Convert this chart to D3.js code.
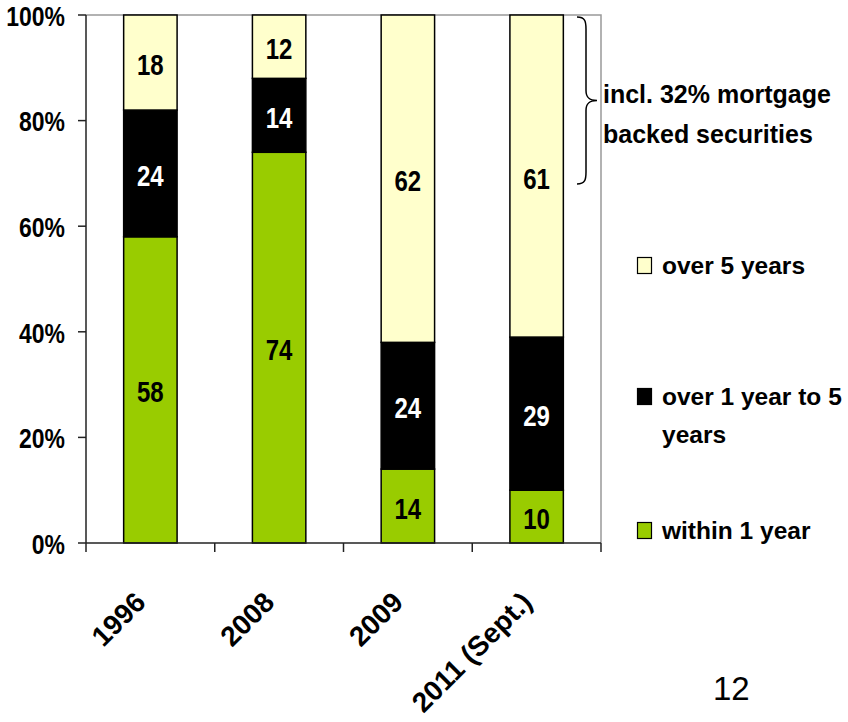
<!DOCTYPE html>
<html>
<head>
<meta charset="utf-8">
<script src="https://cdnjs.cloudflare.com/ajax/libs/d3/7.8.5/d3.min.js"></script>
<style>
  html, body { margin: 0; padding: 0; background: #fff; }
  svg { display: block; font-family: "Liberation Sans", Arial, sans-serif; }
</style>
</head>
<body>
<svg id="chart" width="848" height="722"></svg>
<script>
// ---- data ----
const categories = ["1996", "2008", "2009", "2011 (Sept.)"];
const seriesNames = ["within 1 year", "over 1 year to 5 years", "over 5 years"];
const within1 = [58, 74, 14, 10];
const over1to5 = [24, 14, 24, 29];
const over5 = [18, 12, 62, 61];
const yTicks = [0, 20, 40, 60, 80, 100];
const yTickLabels = ["0%", "20%", "40%", "60%", "80%", "100%"];
const colors = ["#99CC00", "#000000", "#FFFFCC"];
const labelColors = ["#000", "#fff", "#000"];
const legendLines = [["over 5 years"], ["over 1 year to 5", "years"], ["within 1 year"]];
const legendSeries = [2, 1, 0];
const noteLines = ["incl. 32% mortgage", "backed securities"];
const bracketRange = [99.6, 68];
const pageNumber = "12";

(function () {
const svg = d3.select("#chart");
const pLeft = 86, pRight = 601, pTop = 15, pBottom = 543;

const x = d3.scaleBand().domain(categories).range([pLeft, pRight]).padding(0);
const y = d3.scaleLinear().domain([0, 100]).range([pBottom, pTop]);
const barW = x.step() * 0.415;

const rows = categories.map((c, i) => ({ cat: c, s0: within1[i], s1: over1to5[i], s2: over5[i] }));
const stack = d3.stack().keys(["s0", "s1", "s2"]);
const layers = stack(rows);

// plot frame (top and right, gray)
svg.append("path")
  .attr("d", `M${pLeft},${pTop}H${pRight}V${pBottom}`)
  .attr("fill", "none").attr("stroke", "#999").attr("stroke-width", 1.5);

// bars
layers.forEach((layer, li) => {
  svg.append("g").selectAll("rect").data(layer).join("rect")
    .attr("x", d => x(d.data.cat) + (x.step() - barW) / 2)
    .attr("y", d => y(d[1]))
    .attr("width", barW)
    .attr("height", d => y(d[0]) - y(d[1]))
    .attr("fill", colors[li])
    .attr("stroke", "#000").attr("stroke-width", 1.5);
});

// value labels
layers.forEach((layer, li) => {
  svg.append("g").selectAll("text").data(layer).join("text")
    .attr("transform", d => `translate(${x(d.data.cat) + x.step() / 2},${(y(d[0]) + y(d[1])) / 2 + 2}) scale(0.8,1)`)
    .attr("text-anchor", "middle")
    .attr("dominant-baseline", "central")
    .attr("font-size", 30).attr("font-weight", "bold")
    .attr("fill", labelColors[li])
    .text(d => d.data["s" + li]);
});

// y axis
const yAxis = svg.append("g");
yAxis.append("line").attr("x1", pLeft).attr("x2", pLeft).attr("y1", pTop).attr("y2", pBottom)
  .attr("stroke", "#222").attr("stroke-width", 1.5);
yAxis.selectAll("line.tick").data(yTicks).join("line").attr("class", "tick")
  .attr("x1", pLeft - 8).attr("x2", pLeft).attr("y1", d => y(d)).attr("y2", d => y(d))
  .attr("stroke", "#222").attr("stroke-width", 1.5);
yAxis.selectAll("text").data(yTicks).join("text")
  .attr("transform", d => `translate(${pLeft - 21},${y(d) + 1}) scale(0.82,1)`)
  .attr("text-anchor", "end").attr("dominant-baseline", "central")
  .attr("font-size", 28).attr("font-weight", "bold").attr("fill", "#000")
  .text((d, i) => yTickLabels[i]);

// x axis
const xAxis = svg.append("g");
xAxis.append("line").attr("x1", pLeft).attr("x2", pRight).attr("y1", pBottom).attr("y2", pBottom)
  .attr("stroke", "#222").attr("stroke-width", 1.5);
const boundaries = categories.map(c => x(c)).concat([x(categories[categories.length - 1]) + x.step()]);
xAxis.selectAll("line.tick").data(boundaries).join("line").attr("class", "tick")
  .attr("x1", d => d).attr("x2", d => d).attr("y1", pBottom).attr("y2", pBottom + 9)
  .attr("stroke", "#222").attr("stroke-width", 1.5);
xAxis.selectAll("text").data(categories).join("text")
  .attr("transform", d => `translate(${x(d) + x.step() / 2 - 3},${pBottom + 61}) rotate(-45)`)
  .attr("text-anchor", "end")
  .attr("font-size", 28).attr("font-weight", "bold").attr("fill", "#000")
  .text(d => d);

// bracket
const by0 = y(bracketRange[0]), by1 = y(bracketRange[1]), bm = (by0 + by1) / 2;
const bx = pRight - 24;
svg.append("path")
  .attr("d", `M${bx},${by0} C${bx + 8},${by0} ${bx + 9},${by0 + 4} ${bx + 9},${by0 + 12}
              L${bx + 9},${bm - 10} C${bx + 9},${bm - 3} ${bx + 12},${bm} ${bx + 20},${bm}
              C${bx + 12},${bm} ${bx + 9},${bm + 3} ${bx + 9},${bm + 10}
              L${bx + 9},${by1 - 12} C${bx + 9},${by1 - 4} ${bx + 8},${by1} ${bx},${by1}`)
  .attr("fill", "none").attr("stroke", "#000").attr("stroke-width", 1.5);

svg.append("g").selectAll("text").data(noteLines).join("text")
  .attr("x", pRight + 2).attr("y", (d, i) => 103 + i * 40)
  .attr("font-size", 25).attr("font-weight", "bold").attr("fill", "#000")
  .text(d => d);

// legend
const legendTops = [257, 388, 522];
legendSeries.forEach((si, k) => {
  const g = svg.append("g");
  g.append("rect").attr("x", 637.5).attr("y", legendTops[k] + 0.5).attr("width", 14).attr("height", 16)
    .attr("fill", colors[si]).attr("stroke", "#000").attr("stroke-width", 1.2);
  legendLines[k].forEach((line, j) => {
    g.append("text").attr("x", 662).attr("y", legendTops[k] + 17 + j * 38)
      .attr("font-size", 24.5).attr("font-weight", "bold").attr("fill", "#000")
      .text(line);
  });
});

// page number
svg.append("text").attr("x", 713).attr("y", 700)
  .attr("font-size", 33).attr("fill", "#000").text(pageNumber);
})();
</script>
</body>
</html>
